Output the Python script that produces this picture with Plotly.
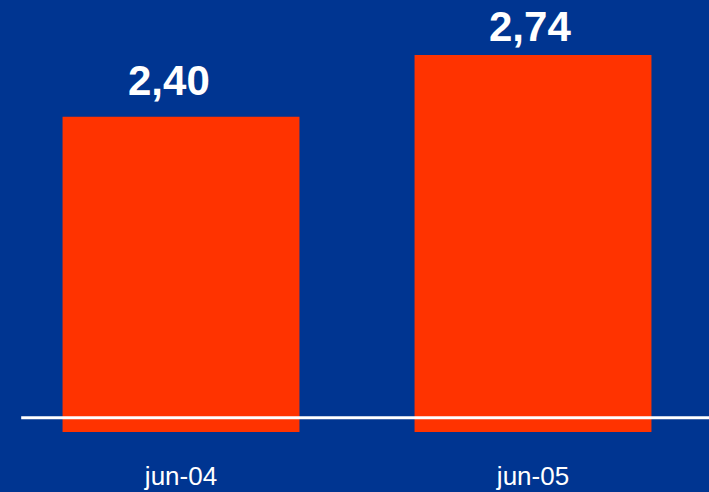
import plotly.graph_objects as go

# data
periods = ["jun-04", "jun-05"]
values = [2.40, 2.74]
labels = ["2,40", "2,74"]

bg = "#003591"
bar_red = "#FF3300"

fig = go.Figure()
fig.add_trace(go.Bar(
    x=periods,
    y=values,
    marker=dict(color=bar_red, line=dict(width=0)),
    hoverinfo="skip",
))

# value labels above the bars (offsets)
label_offsets = [(-12, 36), (-3, 28)]
for p, v, t, (dx, dy) in zip(periods, values, labels, label_offsets):
    fig.add_annotation(
        x=p, y=v, text="<b>" + t + "</b>", showarrow=False,
        yanchor="middle", yshift=dy, xshift=dx,
        font=dict(family="Liberation Sans, Arial", size=42, color="white"),
    )

# white baseline across the chart
fig.add_shape(
    type="line", xref="paper", yref="y",
    x0=0.023, x1=1.0, y0=0.745, y1=0.745,
    line=dict(color="white", width=3),
)

fig.update_layout(
    width=709,
    height=492,
    margin=dict(l=5, r=0, t=0, b=60),
    paper_bgcolor=bg,
    plot_bgcolor=bg,
    bargap=0.327,
    showlegend=False,
    xaxis=dict(
        showgrid=False, zeroline=False, showline=False,
        ticks="", ticklabelstandoff=26, automargin=False,
        tickfont=dict(family="Liberation Sans, Arial", size=26, color="white"),
    ),
    yaxis=dict(
        range=[0.667, 3.042], visible=False, automargin=False,
        showgrid=False, zeroline=False,
    ),
)

fig.write_html("out.html", config={"displayModeBar": False},
               post_script="document.body.style.margin='0';")
